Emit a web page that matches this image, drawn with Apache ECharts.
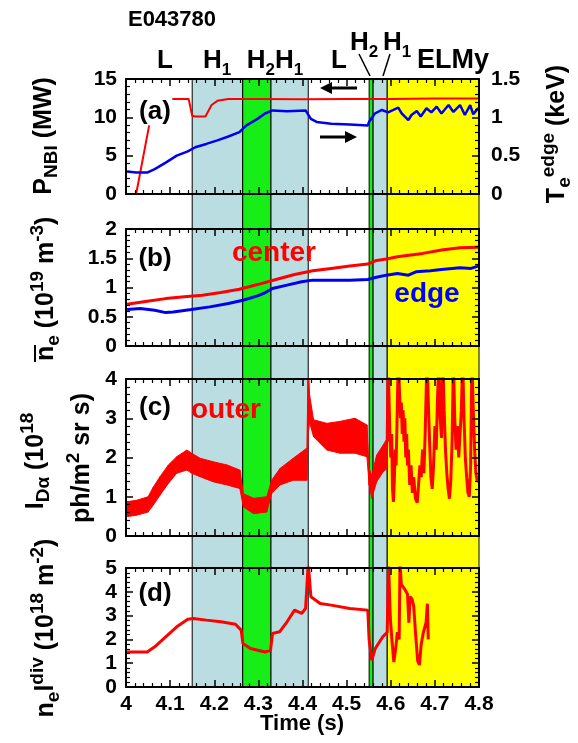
<!DOCTYPE html>
<html><head><meta charset="utf-8">
<script src="https://cdn.jsdelivr.net/npm/echarts@6/dist/echarts.min.js"></script>
<style>html,body{margin:0;padding:0;background:#fff}#c{width:578px;height:743px}</style>
</head><body><div id="c"></div>
<script>
// ---------------- data ----------------
const timeTicks = [4.0, 4.1, 4.2, 4.3, 4.4, 4.5, 4.6, 4.7, 4.8];
const pnbiTicks = [0, 5, 10, 15];
const teTicks = [0, 0.5, 1, 1.5];
const neTicks = [0, 0.5, 1, 1.5, 2];
const idaTicks = [0, 1, 2, 3, 4];
const nelTicks = [0, 1, 2, 3, 4, 5];

// confinement phases (s)
const phaseStart = [4.150, 4.2645, 4.3286, 4.551, 4.560, 4.592];
const phaseEnd   = [4.2645, 4.3286, 4.413, 4.560, 4.592, 4.800];
const phaseKind  = ['H1', 'H2', 'H1', 'H2', 'H1', 'ELMy'];

// (a) P_NBI (MW)
const pnbiT = [4.023, 4.0525, 4.08, 4.105, 4.142, 4.150, 4.157, 4.180, 4.194, 4.207, 4.232, 4.300, 4.400, 4.500, 4.600, 4.700, 4.798];
const pnbiV = [0, 8.95, null, 12.4, 12.4, 10.2, 10.1, 10.1, 11.6, 12.15, 12.4, 12.4, 12.35, 12.4, 12.4, 12.45, 12.45];
// (a) Te edge (keV)
const teT = [4.0025, 4.023, 4.048, 4.065, 4.09, 4.115, 4.14, 4.157, 4.182, 4.207, 4.232, 4.257, 4.273, 4.298, 4.315, 4.332, 4.365, 4.407, 4.419, 4.432, 4.465, 4.507, 4.548, 4.551, 4.564, 4.58, 4.594, 4.606, 4.617, 4.625, 4.64, 4.647, 4.659, 4.668, 4.681, 4.692, 4.704, 4.715, 4.731, 4.742, 4.757, 4.768, 4.78, 4.787, 4.798];
const teV = [0.294, 0.28, 0.28, 0.325, 0.41, 0.50, 0.557, 0.61, 0.653, 0.70, 0.75, 0.807, 0.895, 0.98, 1.05, 1.09, 1.08, 1.09, 0.98, 0.94, 0.917, 0.908, 0.895, 0.943, 1.05, 1.096, 1.065, 1.096, 1.126, 1.05, 0.965, 1.03, 1.083, 1.01, 1.118, 1.065, 1.14, 1.05, 1.16, 1.07, 1.16, 1.03, 1.16, 1.04, 1.12];

// (b) line-averaged density (1e19 m^-3)
const neCenterT = [4.0025, 4.048, 4.09, 4.132, 4.173, 4.215, 4.257, 4.298, 4.34, 4.382, 4.423, 4.465, 4.507, 4.548, 4.565, 4.59, 4.615, 4.632, 4.673, 4.715, 4.757, 4.798];
const neCenterV = [0.714, 0.766, 0.81, 0.84, 0.869, 0.914, 0.971, 1.05, 1.137, 1.223, 1.286, 1.326, 1.366, 1.40, 1.457, 1.486, 1.526, 1.543, 1.583, 1.64, 1.68, 1.686];
const neEdgeT = [4.0025, 4.032, 4.065, 4.09, 4.107, 4.148, 4.19, 4.232, 4.265, 4.298, 4.315, 4.332, 4.365, 4.398, 4.423, 4.465, 4.507, 4.548, 4.565, 4.59, 4.615, 4.64, 4.657, 4.69, 4.715, 4.757, 4.782, 4.798];
const neEdgeV = [0.623, 0.64, 0.611, 0.571, 0.583, 0.623, 0.669, 0.726, 0.783, 0.857, 0.909, 0.983, 1.04, 1.097, 1.126, 1.126, 1.126, 1.137, 1.171, 1.211, 1.24, 1.211, 1.269, 1.286, 1.309, 1.337, 1.326, 1.366];

// (c) D-alpha outer (1e18 ph/m2 sr s): noisy band (low / high envelope) before ELMs
const idaBandT  = [4.000, 4.024, 4.050, 4.062, 4.077, 4.096, 4.115, 4.138, 4.149, 4.168, 4.198, 4.229, 4.258, 4.266, 4.289, 4.319, 4.330, 4.349, 4.379, 4.410, 4.413, 4.416, 4.425, 4.455, 4.485, 4.519, 4.546, 4.551, 4.557, 4.568, 4.583, 4.592];
const idaBandLo = [0.49, 0.53, 0.61, 0.79, 1.04, 1.34, 1.60, 1.68, 1.60, 1.51, 1.38, 1.30, 1.21, 0.74, 0.57, 0.61, 1.08, 1.30, 1.42, 1.42, 2.60, 2.90, 2.53, 2.19, 2.11, 2.11, 2.02, 1.30, 0.96, 1.38, 1.64, 1.72];
const idaBandHi = [0.87, 0.91, 1.00, 1.25, 1.51, 1.81, 2.02, 2.19, 2.11, 1.98, 1.89, 1.81, 1.68, 1.08, 0.96, 1.00, 1.42, 1.72, 1.98, 2.24, 4.50, 3.60, 2.96, 2.87, 2.92, 3.00, 2.83, 1.72, 1.55, 2.06, 2.32, 2.49];
// (c) ELMy phase trace
const idaElmT = [4.592, 4.594, 4.596, 4.598, 4.600, 4.602, 4.604, 4.606, 4.608, 4.610, 4.612, 4.614, 4.617, 4.620, 4.622, 4.624, 4.626, 4.628, 4.630, 4.632, 4.634, 4.636, 4.638, 4.640, 4.643, 4.646, 4.649, 4.652, 4.656, 4.660, 4.663, 4.666, 4.669, 4.672, 4.675, 4.678, 4.682, 4.685, 4.688, 4.691, 4.694, 4.697, 4.700, 4.703, 4.706, 4.709, 4.712, 4.715, 4.718, 4.721, 4.724, 4.727, 4.730, 4.733, 4.736, 4.739, 4.742, 4.745, 4.748, 4.751, 4.754, 4.757, 4.760, 4.763, 4.766, 4.769, 4.772, 4.775, 4.778, 4.781, 4.784, 4.787, 4.790, 4.793, 4.796, 4.800];
const idaElmV = [2.4, 4.5, 4.5, 2.6, 2.0, 2.6, 1.2, 0.87, 1.4, 2.2, 1.8, 2.8, 4.5, 4.5, 3.0, 3.4, 2.6, 3.2, 2.4, 3.0, 2.0, 2.6, 1.8, 2.2, 1.3, 1.8, 1.1, 1.5, 0.95, 0.85, 1.3, 1.8, 1.5, 2.2, 1.6, 2.6, 4.5, 4.5, 2.4, 1.5, 1.2, 1.8, 2.8, 2.2, 3.5, 4.5, 3.0, 2.5, 4.5, 3.2, 2.2, 1.6, 1.2, 0.95, 1.4, 2.4, 4.5, 3.0, 2.2, 2.8, 2.0, 2.6, 3.2, 4.5, 3.0, 2.0, 1.5, 1.1, 1.0, 1.8, 4.5, 3.2, 2.2, 1.6, 1.4, 1.4];

// (d) divertor line-integrated density (1e18 m^-2)
const nelT = [4.0025, 4.048, 4.065, 4.09, 4.115, 4.14, 4.1525, 4.182, 4.215, 4.248, 4.261, 4.265, 4.282, 4.315, 4.3275, 4.332, 4.348, 4.365, 4.382, 4.398, 4.407, 4.413, 4.419, 4.44, 4.465, 4.507, 4.548, 4.551, 4.557, 4.565, 4.582, 4.592, 4.595, 4.599, 4.603, 4.607, 4.611, 4.615, 4.619, 4.621, 4.624, 4.632, 4.638, 4.641, 4.644, 4.648, 4.652, 4.656, 4.661, 4.665, 4.669, 4.674, 4.680, 4.683, 4.685];
const nelV = [1.47, 1.47, 1.69, 2.11, 2.53, 2.85, 2.88, 2.81, 2.74, 2.64, 2.39, 1.83, 1.62, 1.47, 1.54, 2.25, 2.32, 2.74, 3.23, 3.09, 3.30, 5.2, 3.79, 3.51, 3.44, 3.30, 3.23, 1.97, 1.12, 1.62, 2.11, 2.30, 5.2, 2.9, 1.9, 1.05, 1.6, 2.3, 2.0, 5.2, 4.3, 4.1, 3.9, 2.7, 3.8, 3.7, 3.4, 2.3, 1.1, 0.93, 1.8, 2.3, 2.7, 3.5, 2.0];

// ---------------- chart ----------------
const F = '"Liberation Sans", Arial, Helvetica, sans-serif';
const RED = '#ff0000', BLUE = '#0000f0';
const L = 126, W = 353;
const panels = [ {top: 79, h: 115}, {top: 229, h: 117}, {top: 379, h: 157}, {top: 568, h: 119} ];
const grids = panels.map(p => ({left: L, top: p.top, width: W, height: p.h, show: false, containLabel: false}));
grids.push({left: L, top: 79, width: W, height: 608, show: false});

const lab = {fontFamily: F, fontWeight: 'bold', fontSize: 21, color: '#000'};
const step = a => +(a[1] - a[0]).toFixed(6);
const fmt = v => String(+(+v).toFixed(2));

function ax(kind, grid, pos, ticks, showLabel, extra) {
  return Object.assign({
    type: 'value', gridIndex: grid, position: pos,
    min: ticks[0], max: ticks[ticks.length - 1], interval: step(ticks),
    axisLine: {show: true, onZero: false, lineStyle: {color: '#000', width: 2}},
    axisTick: {show: true, inside: true, length: 7, lineStyle: {color: '#000', width: 1.5}},
    minorTick: {show: true, splitNumber: 5, length: 4, lineStyle: {color: '#000', width: 1.2}},
    splitLine: {show: false}, minorSplitLine: {show: false},
    axisLabel: Object.assign({show: showLabel, margin: kind === 'x' ? 7 : 9, formatter: fmt}, lab),
    z: 5
  }, extra || {});
}

const xAxes = [], yAxes = [];
const yTicks = [pnbiTicks, neTicks, idaTicks, nelTicks];
for (let i = 0; i < 4; i++) {
  xAxes.push(ax('x', i, 'bottom', timeTicks, i === 3));
  xAxes.push(ax('x', i, 'top', timeTicks, false));
  yAxes.push(ax('y', i, 'left', yTicks[i], true));
  if (i === 0) yAxes.push(ax('y', i, 'right', teTicks, true, {axisLabel: Object.assign({show: true, margin: 12, formatter: fmt}, lab)}));
  else yAxes.push(ax('y', i, 'right', yTicks[i], false));
}
// background shading axes
xAxes.push({type: 'value', gridIndex: 4, min: timeTicks[0], max: timeTicks[timeTicks.length - 1], show: false});
yAxes.push({type: 'value', gridIndex: 4, min: 0, max: 1, show: false});

const zip = (t, v) => t.map((x, i) => [x, v[i]]);
const phaseColor = {H1: '#b9dde1', H2: '#17ee17', ELMy: '#ffff00'};

function line(xi, yi, t, v, color, w) {
  return {type: 'line', xAxisIndex: xi, yAxisIndex: yi, data: zip(t, v), showSymbol: false, symbol: 'none',
    lineStyle: {color: color, width: w}, itemStyle: {color: color}, connectNulls: false, clip: true, z: 3, silent: true};
}

const series = [
  {type: 'custom', xAxisIndex: 8, yAxisIndex: 8, z: 1, silent: true,
   data: phaseStart.map((s, i) => [s, phaseEnd[i]]),
   renderItem: (params, api) => {
     const p0 = api.coord([api.value(0), 1]);
     const p1 = api.coord([api.value(1), 0]);
     return {type: 'rect', shape: {x: p0[0], y: p0[1], width: p1[0] - p0[0], height: p1[1] - p0[1]},
       style: {fill: phaseColor[phaseKind[params.dataIndex]], stroke: '#000', lineWidth: 1}};
   }},
  line(0, 0, pnbiT, pnbiV, RED, 2),
  line(0, 1, teT, teV, BLUE, 2.5),
  line(2, 2, neCenterT, neCenterV, RED, 3),
  line(2, 2, neEdgeT, neEdgeV, BLUE, 3),
  {type: 'custom', xAxisIndex: 4, yAxisIndex: 4, z: 3, silent: true, clip: true,
   data: idaBandT.map((t, i) => [t, idaBandLo[i], idaBandHi[i]]),
   encode: {x: 0, y: [1, 2]},
   renderItem: (params, api) => {
     const i = params.dataIndexInside;
     if (i === 0) return null;
     const a0 = api.coord([api.value(0, i - 1), api.value(1, i - 1)]);
     const b0 = api.coord([api.value(0, i - 1), api.value(2, i - 1)]);
     const a1 = api.coord([api.value(0), api.value(1)]);
     const b1 = api.coord([api.value(0), api.value(2)]);
     return {type: 'polygon', shape: {points: [a0, a1, b1, b0]}, style: {fill: RED, stroke: RED, lineWidth: 1}};
   }},
  line(4, 4, idaElmT, idaElmV, RED, 3),
  line(6, 6, nelT, nelV, RED, 3)
];

// ---------- text helpers ----------
function R(m, s, color) {
  const c = color || '#000';
  return {
    m: {fontFamily: F, fontWeight: 'bold', fontSize: m, lineHeight: m + 10, fill: c},
    b: {fontFamily: F, fontWeight: 'bold', fontSize: s, lineHeight: s, verticalAlign: 'bottom', fill: c},
    p: {fontFamily: F, fontWeight: 'bold', fontSize: s, lineHeight: s, verticalAlign: 'top', fill: c}
  };
}
function txt(x, y, text, m, s, color, extra) {
  return Object.assign({type: 'text', x: x, y: y, z: 20, silent: true,
    style: {text: text, rich: R(m, s, color), align: 'center', verticalAlign: 'middle', textAlign: 'center', textVerticalAlign: 'middle'}}, extra || {});
}
function vtxt(x, y, text, m, s) {
  return {type: 'group', x: x, y: y, rotation: Math.PI / 2, z: 20, silent: true,
    children: [{type: 'text', style: {text: text, rich: R(m, s), align: 'center', verticalAlign: 'middle', textAlign: 'center', textVerticalAlign: 'middle'}}]};
}
function arrow(x1, x2, y, headLeft) {
  const hx = headLeft ? x1 : x2, d = headLeft ? 1 : -1;
  return [
    {type: 'line', z: 20, silent: true, shape: {x1: headLeft ? x1 + 8 : x1, y1: y, x2: headLeft ? x2 : x2 - 8, y2: y}, style: {stroke: '#000', lineWidth: 3}},
    {type: 'polygon', z: 20, silent: true, shape: {points: [[hx, y], [hx + d * 12, y - 6], [hx + d * 12, y + 6]]}, style: {fill: '#000'}}
  ];
}

const graphic = [
  txt(172, 20, '{m|E043780}', 22, 14),
  txt(165, 61, '{m|L}', 26, 17),
  txt(217, 61, '{m|H}{b|1}', 26, 17),
  txt(275, 61, '{m|H}{b|2}{m|H}{b|1}', 26, 17),
  txt(339, 61, '{m|L}', 26, 17),
  txt(364, 43, '{m|H}{b|2}', 26, 17),
  txt(397, 43, '{m|H}{b|1}', 26, 17),
  txt(453, 61, '{m|ELMy}', 27, 17),
  {type: 'line', z: 20, silent: true, shape: {x1: 359, y1: 54, x2: 370, y2: 76}, style: {stroke: '#000', lineWidth: 1.5}},
  {type: 'line', z: 20, silent: true, shape: {x1: 390, y1: 54, x2: 383, y2: 76}, style: {stroke: '#000', lineWidth: 1.5}},
  txt(155, 112, '{m|(a)}', 26, 16),
  txt(155, 259, '{m|(b)}', 26, 16),
  txt(155, 408, '{m|(c)}', 26, 16),
  txt(155, 594, '{m|(d)}', 26, 16),
  txt(274, 253, '{m|center}', 28, 16, RED),
  txt(427, 294, '{m|edge}', 28, 16, '#0000ff'),
  txt(226, 410, '{m|outer}', 28, 16, RED),
  ...arrow(320, 357, 88, true),
  ...arrow(320, 357, 137, false),
  // axis titles
  vtxt(44, 136, '{m|P}{b|NBI}{m| (MW)}', 25, 19),
  {type: 'group', x: 46, y: 361, rotation: Math.PI / 2, z: 20, silent: true, children: [
    {type: 'text', style: {text: '{m|n}{b|e}{m| (10}{p|19}{m| m}{p|-3}{m|)}', rich: R(25, 19), align: 'left', verticalAlign: 'middle', textAlign: 'left', textVerticalAlign: 'middle'}},
    {type: 'line', shape: {x1: -1, y1: -11, x2: 16, y2: -11}, style: {stroke: '#000', lineWidth: 2}}
  ]},
  vtxt(36, 461, '{m|I}{b|Dα}{m| (10}{p|18}', 25, 19),
  vtxt(82, 458, '{m|ph/m}{p|2}{m| sr s)}', 25, 19),
  vtxt(46, 628, '{m|n}{b|e}{m|l}{p|div}{m| (10}{p|18}{m| m}{p|-2}{m|)}', 25, 19),
  vtxt(557, 134, '{m|T}{b|e}{p|edge}{m| (keV)}', 25, 19),
  txt(302, 724, '{m|Time (s)}', 22, 14)
];

const chart = echarts.init(document.getElementById('c'), null, {renderer: 'canvas'});
chart.setOption({animation: false, backgroundColor: '#fff', grid: grids, xAxis: xAxes, yAxis: yAxes, series: series, graphic: graphic});
</script>
</body></html>
